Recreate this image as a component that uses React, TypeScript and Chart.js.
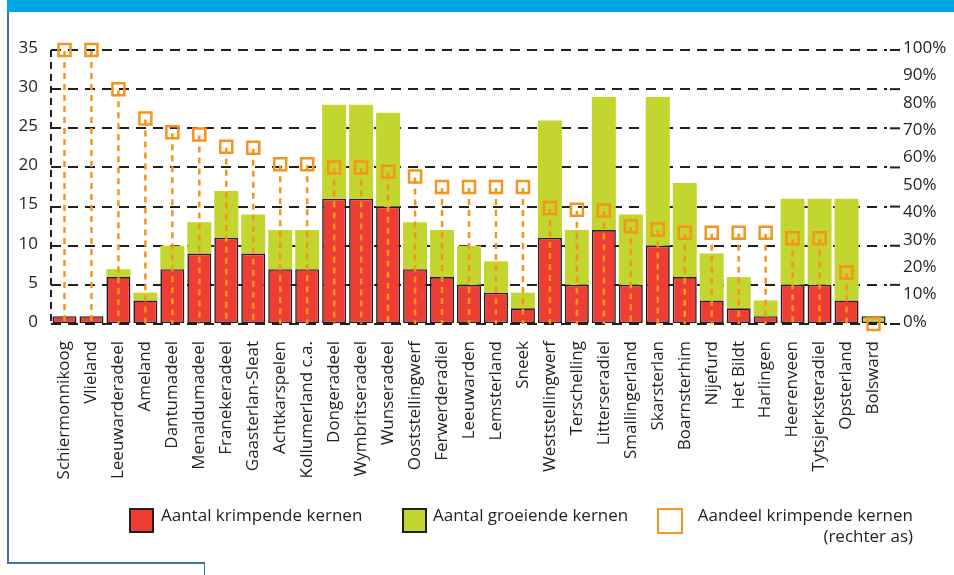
import React, { useEffect, useRef } from 'react';
import { Chart, registerables } from 'chart.js';

Chart.register(...registerables);

const categories = [
  'Schiermonnikoog', 'Vlieland', 'Leeuwarderadeel', 'Ameland', 'Dantumadeel',
  'Menaldumadeel', 'Franekeradeel', 'Gaasterlan-Sleat', 'Achtkarspelen', 'Kollumerland c.a.',
  'Dongeradeel', 'Wymbritseradeel', 'Wunseradeel', 'Ooststellingwerf', 'Ferwerderadiel',
  'Leeuwarden', 'Lemsterland', 'Sneek', 'Weststellingwerf', 'Terschelling',
  'Litterseradiel', 'Smallingerland', 'Skarsterlan', 'Boarnsterhim', 'Nijefurd',
  'Het Bildt', 'Harlingen', 'Heerenveen', 'Tytsjerksteradiel', 'Opsterland', 'Bolsward',
];

const krimpendeKernen = [1, 1, 6, 3, 7, 9, 11, 9, 7, 7, 16, 16, 15, 7, 6, 5, 4, 2, 11, 5, 12, 5, 10, 6, 3, 2, 1, 5, 5, 3, 0];
const groeiendeKernen = [0, 0, 1, 1, 3, 4, 6, 5, 5, 5, 12, 12, 12, 6, 6, 5, 4, 2, 15, 7, 17, 9, 19, 12, 6, 4, 2, 11, 11, 13, 1];
const aandeelKrimpend = [100, 100, 85.7, 75, 70, 69.2, 64.7, 64.3, 58.3, 58.3, 57.1, 57.1, 55.6, 53.8, 50, 50, 50, 50, 42.3, 41.7, 41.4, 35.7, 34.5, 33.3, 33.3, 33.3, 33.3, 31.3, 31.3, 18.8, 0];

const leftAxisMax = 35;
const leftAxisStep = 5;
const rightAxisMax = 100;
const rightAxisStep = 10;

const legendLabels = ['Aantal krimpende kernen', 'Aantal groeiende kernen', 'Aandeel krimpende kernen', '(rechter as)'];

const RED = '#EE3E34';
const GREEN = '#C3D52F';
const ORANGE = '#F7941D';
const DARK = '#231F20';
const BLUE = '#00A6E1';
const FRAME = '#3E70B4';
const FONT = "'Open Sans', 'Noto Sans', sans-serif";

const W = 954;
const H = 575;
const AREA_LEFT = 51;
const AREA_RIGHT = 887;
const AREA_TOP = 50;
const AREA_BOTTOM = 324;

const dropLinesPlugin = {
  id: 'dropLines',
  afterDatasetsDraw(chart: any) {
    const meta = chart.getDatasetMeta(0);
    const y0 = chart.scales.y1.getPixelForValue(0);
    const ctx = chart.ctx;
    ctx.save();
    ctx.strokeStyle = ORANGE;
    ctx.lineWidth = 2.5;
    ctx.setLineDash([6, 5]);
    meta.data.forEach((pt: any) => {
      if (y0 - pt.y > 3) {
        ctx.beginPath();
        ctx.moveTo(pt.x, pt.y + 1);
        ctx.lineTo(pt.x, y0);
        ctx.stroke();
      }
    });
    ctx.restore();
  },
};

const gridExtensionPlugin = {
  id: 'gridExtension',
  beforeDatasetsDraw(chart: any) {
    const s = chart.scales.y;
    const { left, right } = chart.chartArea;
    const ctx = chart.ctx;
    ctx.save();
    ctx.strokeStyle = DARK;
    ctx.lineWidth = 2;
    ctx.setLineDash([10, 7]);
    ctx.lineDashOffset = -((right - left) % 17);
    s.ticks.forEach((_t: any, i: number) => {
      const y = s.getPixelForTick(i);
      ctx.beginPath();
      ctx.moveTo(right, y);
      ctx.lineTo(right + 14, y);
      ctx.stroke();
    });
    ctx.restore();
  },
};

export default function App() {
  const canvasRef = useRef<HTMLCanvasElement | null>(null);

  useEffect(() => {
    if (!canvasRef.current) return;
    Chart.defaults.font.family = FONT;
    Chart.defaults.font.size = 17;
    Chart.defaults.color = DARK;
    const n = categories.length;
    const chart = new Chart(canvasRef.current, {
      type: 'bar',
      data: {
        labels: categories,
        datasets: [
          {
            type: 'line',
            label: legendLabels[2],
            data: aandeelKrimpend,
            yAxisID: 'y1',
            showLine: false,
            pointStyle: 'rect',
            pointRadius: 8.5,
            pointBorderWidth: 2.5,
            pointBorderColor: ORANGE,
            pointBackgroundColor: 'rgba(0,0,0,0)',
            borderColor: ORANGE,
            backgroundColor: 'rgba(0,0,0,0)',
            clip: false,
            order: 0,
          } as any,
          {
            type: 'bar',
            label: legendLabels[0],
            data: krimpendeKernen,
            yAxisID: 'y',
            backgroundColor: RED,
            borderColor: DARK,
            borderWidth: krimpendeKernen.map((v) => (v > 0 ? 1.6 : 0)),
            borderSkipped: false,
            barPercentage: 0.89,
            categoryPercentage: 1,
            order: 1,
          } as any,
          {
            type: 'bar',
            label: legendLabels[1],
            data: groeiendeKernen,
            yAxisID: 'y',
            backgroundColor: GREEN,
            borderColor: DARK,
            borderWidth: krimpendeKernen.map((v, i) => (v === 0 && groeiendeKernen[i] > 0 ? 1.6 : 0)),
            borderSkipped: false,
            barPercentage: 0.89,
            categoryPercentage: 1,
            order: 1,
          } as any,
        ],
      },
      options: {
        responsive: false,
        animation: false,
        layout: { padding: { top: AREA_TOP, left: 0, right: 0, bottom: 0 } },
        plugins: { legend: { display: false }, tooltip: { enabled: false } },
        scales: {
          x: {
            stacked: true,
            offset: true,
            grid: {
              display: true,
              drawTicks: false,
              lineWidth: 2,
              color: (c: any) => (c.index === 0 ? DARK : 'rgba(0,0,0,0)'),
            },
            border: { display: false, dash: [7, 5] },
            ticks: {
              autoSkip: false,
              minRotation: 90,
              maxRotation: 90,
              padding: 17,
              color: DARK,
              font: { size: 17, family: FONT },
            },
            afterFit: (s: any) => {
              s.height = H - AREA_BOTTOM;
            },
          },
          y: {
            position: 'left',
            stacked: true,
            min: 0,
            max: leftAxisMax,
            ticks: { stepSize: leftAxisStep, padding: 13, labelOffset: -2, color: DARK, font: { size: 17, family: FONT } },
            grid: { color: DARK, lineWidth: 2, drawTicks: false },
            border: { display: false, dash: [10, 7] },
            afterFit: (s: any) => {
              s.width = AREA_LEFT;
            },
          },
          y1: {
            position: 'right',
            min: 0,
            max: rightAxisMax,
            ticks: {
              stepSize: rightAxisStep,
              padding: 16,
              labelOffset: -2,
              color: DARK,
              font: { size: 17, family: FONT },
              callback: (v: any) => `${v}%`,
            },
            grid: { display: false, drawTicks: false },
            border: { display: false },
            afterFit: (s: any) => {
              s.width = W - AREA_RIGHT;
            },
          },
        },
      },
      plugins: [gridExtensionPlugin, dropLinesPlugin],
    } as any);
    void n;
    return () => chart.destroy();
  }, []);

  const textStyle: React.CSSProperties = {
    position: 'absolute',
    fontFamily: FONT,
    fontSize: 17,
    lineHeight: '21px',
    color: DARK,
    whiteSpace: 'nowrap',
  };

  return (
    <div style={{ position: 'absolute', left: 0, top: 0, width: W, height: H, background: '#fff', overflow: 'hidden' }}>
      <div style={{ position: 'absolute', left: 7, top: 0, width: W - 7, height: 12, background: BLUE }} />
      <div style={{ position: 'absolute', left: 7, top: 12, width: 1.5, height: 551, background: FRAME }} />
      <div style={{ position: 'absolute', left: 7, top: 562, width: 198, height: 1.5, background: FRAME }} />
      <div style={{ position: 'absolute', left: 203.5, top: 562, width: 1.5, height: 13, background: FRAME }} />
      <canvas ref={canvasRef} width={W} height={H} style={{ position: 'absolute', left: 0, top: 0, display: 'block' }} />
      <div style={{ position: 'absolute', left: 129, top: 508, width: 25, height: 25, boxSizing: 'border-box', background: RED, border: `2px solid ${DARK}` }} />
      <div style={{ ...textStyle, left: 161, top: 504 }}>{legendLabels[0]}</div>
      <div style={{ position: 'absolute', left: 402, top: 508, width: 25, height: 25, boxSizing: 'border-box', background: GREEN, border: `2px solid ${DARK}` }} />
      <div style={{ ...textStyle, left: 433, top: 504 }}>{legendLabels[1]}</div>
      <div style={{ position: 'absolute', left: 657, top: 508, width: 26, height: 26, boxSizing: 'border-box', background: 'transparent', border: `2.5px solid ${ORANGE}` }} />
      <div style={{ ...textStyle, right: W - 913, top: 504, textAlign: 'right' }}>
        {legendLabels[2]}
        <br />
        {legendLabels[3]}
      </div>
    </div>
  );
}
